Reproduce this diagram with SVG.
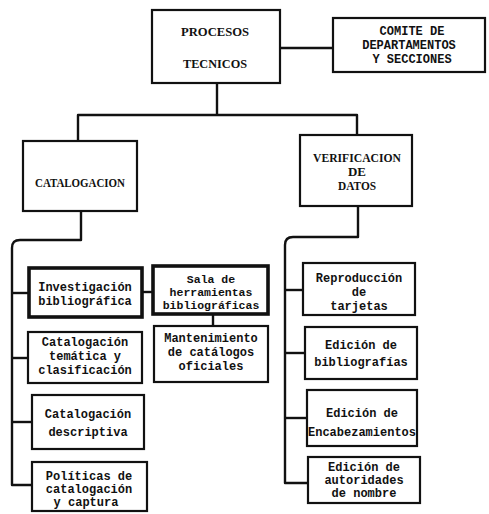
<svg xmlns="http://www.w3.org/2000/svg" width="489" height="514" viewBox="0 0 489 514">
<style>
.box{fill:#fff;stroke:#111;stroke-width:2.2}
.thick{stroke-width:3.6}
.ln{fill:none;stroke:#111;stroke-width:2.4;stroke-linejoin:round}
.t{font-family:"Liberation Mono","DejaVu Sans Mono",monospace;font-weight:bold;font-size:12px;fill:#111;text-anchor:middle}
.sm{font-size:11.5px}
.s{font-family:"Liberation Serif","DejaVu Serif",serif;font-weight:bold;font-size:13px;fill:#111;text-anchor:middle}
</style>
<rect width="489" height="514" fill="#fff"/>
<g id="connectors">
<path class="ln" d="M280 48H333"/>
<path class="ln" d="M217 83V115"/>
<path class="ln" d="M78 141V115H357V135"/>
<path class="ln" d="M81 211V240H20Q12 240 12 248V485H32"/>
<path class="ln" d="M12 293H28"/>
<path class="ln" d="M12 358H28"/>
<path class="ln" d="M12 422H32"/>
<path class="ln" d="M142 292H153"/>
<path class="ln" d="M213 314V326"/>
<path class="ln" d="M358 206V237H293Q285 237 285 245V483H308"/>
<path class="ln" d="M285 290H303"/>
<path class="ln" d="M285 353H305"/>
<path class="ln" d="M285 418H307"/>
</g>
<g id="procesos">
<rect class="box" x="152" y="10" width="128" height="73"/>
<text class="s" x="215" y="36" textLength="68" lengthAdjust="spacingAndGlyphs">PROCESOS</text>
<text class="s" x="215" y="68" textLength="64" lengthAdjust="spacingAndGlyphs">TECNICOS</text>
</g>
<g id="comite">
<rect class="box" x="333" y="18" width="152" height="54"/>
<text class="t" x="412" y="35">COMITE DE</text>
<text class="t" x="409" y="49">DEPARTAMENTOS</text>
<text class="t" x="412" y="63">Y SECCIONES</text>
</g>
<g id="catalogacion">
<rect class="box" x="23" y="141" width="114" height="70"/>
<text class="s" x="80" y="187" textLength="90" lengthAdjust="spacingAndGlyphs">CATALOGACION</text>
</g>
<g id="verificacion">
<rect class="box" x="300" y="135" width="112" height="71"/>
<text class="s" x="357" y="162" textLength="88" lengthAdjust="spacingAndGlyphs">VERIFICACION</text>
<text class="s" x="357" y="176" textLength="18" lengthAdjust="spacingAndGlyphs">DE</text>
<text class="s" x="357" y="190" textLength="38" lengthAdjust="spacingAndGlyphs">DATOS</text>
</g>
<g id="investigacion">
<rect class="box thick" x="29" y="268" width="113" height="49"/>
<text class="t" x="85" y="291">Investigación</text>
<text class="t" x="85" y="305">bibliográfica</text>
</g>
<g id="sala">
<rect class="box thick" x="153" y="266" width="115" height="48"/>
<text class="t sm" x="211" y="283">Sala de</text>
<text class="t sm" x="211" y="296">herramientas</text>
<text class="t sm" x="211" y="309">bibliográficas</text>
</g>
<g id="mantenimiento">
<rect class="box" x="154" y="326" width="114" height="56"/>
<text class="t" x="211" y="342">Mantenimiento</text>
<text class="t" x="211" y="356">de catálogos</text>
<text class="t" x="211" y="370">oficiales</text>
</g>
<g id="tematica">
<rect class="box" x="28" y="332" width="114" height="51"/>
<text class="t" x="85" y="346">Catalogación</text>
<text class="t" x="85" y="360">temática y</text>
<text class="t" x="85" y="374">clasificación</text>
</g>
<g id="descriptiva">
<rect class="box" x="32" y="395" width="112" height="54"/>
<text class="t" x="88" y="418">Catalogación</text>
<text class="t" x="88" y="436">descriptiva</text>
</g>
<g id="politicas">
<rect class="box" x="32" y="462" width="115" height="49"/>
<text class="t" x="89" y="480">Políticas de</text>
<text class="t" x="89" y="493">catalogación</text>
<text class="t" x="86" y="506">y captura</text>
</g>
<g id="reproduccion">
<rect class="box" x="303" y="263" width="112" height="52"/>
<text class="t" x="359" y="282">Reproducción</text>
<text class="t" x="359" y="296">de</text>
<text class="t" x="359" y="310">tarjetas</text>
</g>
<g id="bibliografias">
<rect class="box" x="305" y="327" width="112" height="52"/>
<text class="t" x="361" y="349">Edición de</text>
<text class="t" x="361" y="366">bibliografías</text>
</g>
<g id="encabezamientos">
<rect class="box" x="307" y="390" width="110" height="56"/>
<text class="t" x="362" y="417">Edición de</text>
<text class="t" x="362" y="436">Encabezamientos</text>
</g>
<g id="autoridades">
<rect class="box" x="308" y="457" width="112" height="46"/>
<text class="t" x="364" y="471">Edición de</text>
<text class="t" x="364" y="484">autoridades</text>
<text class="t" x="364" y="497">de nombre</text>
</g>
</svg>
